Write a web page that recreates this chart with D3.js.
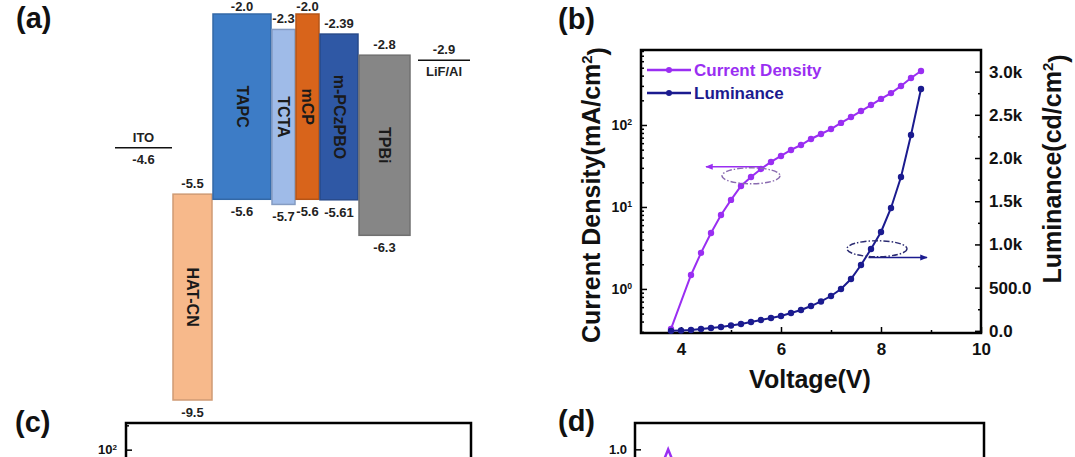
<!DOCTYPE html>
<html lang="en">
<head>
<meta charset="UTF-8" />
<title>Device energy levels and J-V-L characteristics</title>
<script src="https://d3js.org/d3.v7.min.js"></script>
<style>
  html, body { margin: 0; padding: 0; background: #fff; }
  svg { display: block; font-family: "Liberation Sans", Arial, sans-serif; font-weight: bold; }
  .axis path { display: none; }
  .axis line { stroke: #000; stroke-width: 1.5; }
  .axis text { font-family: "Liberation Sans", Arial, sans-serif; font-weight: bold; fill: #111; }
  .frame { fill: none; stroke: #000; stroke-width: 2.5; }
  .panel-tag { font-size: 29px; fill: #111; }
  .level-label { font-size: 13px; fill: #222; }
  .layer-name { font-size: 16px; fill: #1a1a1a; }
  .axis-title { font-size: 25px; fill: #111; }
</style>
</head>
<body>
<svg id="figure" width="1075" height="457"></svg>
<script>
// (a) energy levels, eV
const layerNames = ["HAT-CN", "TAPC", "TCTA", "mCP", "m-PCzPBO", "TPBi"];
const lumoLevels = [-5.5, -2.0, -2.3, -2.0, -2.39, -2.8];
const homoLevels = [-9.5, -5.6, -5.7, -5.6, -5.61, -6.3];
const electrodeNames = ["ITO", "LiF/Al"];
const electrodeLevels = [-4.6, -2.9];

// (b) J-V-L
const voltage = [3.8, 4.0, 4.2, 4.4, 4.6, 4.8, 5.0, 5.2, 5.4, 5.6, 5.8, 6.0, 6.2,
                 6.4, 6.6, 6.8, 7.0, 7.2, 7.4, 7.6, 7.8, 8.0, 8.2, 8.4, 8.6, 8.8];
const currentDensity = [0.325, null, 1.48, 2.75, 4.82, 7.98, 12.2, 18.0, 23.2, 29.1, 35.4, 41.9, 49.6,
                        57.0, 67.5, 77.6, 89.3, 106, 125, 148, 175, 208, 245, 299, 374, 456];
const luminance = [0, 4, 10, 21, 33, 44, 62, 79, 102, 125, 149, 172, 206,
                   241, 287, 340, 403, 484, 600, 762, 947, 1144, 1422, 1781, 2267, 2799];
const voltageTicks = [4, 6, 8, 10];
const voltageMinorTicks = [5, 7, 9];
const densityTicks = [1, 10, 100];
const luminanceTicks = [0, 500, 1000, 1500, 2000, 2500, 3000];
const legendLabels = ["Current Density", "Luminance"];
// arrows pointing to each curve's axis: [voltage, value] of tail and head
const densityArrow = [[5.58, 31], [4.5, 31]];
const densityCircle = [5.4, 24];
const luminanceArrow = [[7.75, 850], [8.92, 850]];
const luminanceCircle = [7.92, 950];

// (c) and (d), only the top edge is in view
const panelCTicks = [100];
const panelDTicks = [1.0];
const elWavelength = [426, 430, 434, 438, 442, 446, 450];
const elIntensity = [0.74, 0.87, 0.97, 1.0, 0.97, 0.88, 0.75];

const svg = d3.select("#figure");
const purple = "#9a2ef2";
const navy = "#1b1b8f";

function levelText(v) {
  return Math.round(v * 100) % 10 === 0 ? v.toFixed(1) : v.toFixed(2);
}

function powerLabels(g) {
  g.selectAll(".tick text").each(function (d) {
    const t = d3.select(this).text(null);
    t.append("tspan").text("10");
    t.append("tspan").attr("dy", "-0.55em").attr("font-size", "0.62em")
      .text(Math.round(Math.log10(d)));
  });
}

function logMinors(scale) {
  const [lo, hi] = scale.domain();
  const out = [];
  for (let e = -2; e <= 3; e++) {
    for (let m = 2; m <= 9; m++) {
      const v = m * Math.pow(10, e);
      if (v > lo && v < hi) out.push(v);
    }
  }
  return out;
}

function panelTag(label, x, y) {
  svg.append("text").attr("class", "panel-tag").attr("x", x).attr("y", y).text(label);
}

function drawEnergyLevels() {
  const y = d3.scaleLinear().domain([-2.0, -9.5]).range([14, 400]);
  const widths = [39, 58, 23, 23, 38, 51];
  const colors = ["#f7b98b", "#3d7cc6", "#9fbbe8", "#d8641b", "#2f58a5", "#868686"];
  let x0 = 173;
  const layers = layerNames.map((name, i) => {
    const d = { name, lumo: lumoLevels[i], homo: homoLevels[i], x: x0, w: widths[i], color: colors[i] };
    x0 += widths[i] + 1;
    return d;
  });

  const g = svg.append("g");
  g.selectAll("rect.layer")
    .data(layers)
    .join("rect")
    .attr("class", "layer")
    .attr("x", d => d.x)
    .attr("y", d => y(d.lumo))
    .attr("width", d => d.w)
    .attr("height", d => y(d.homo) - y(d.lumo))
    .attr("fill", d => d.color)
    .attr("stroke", d => d3.color(d.color).darker(0.5))
    .attr("stroke-width", 1.5);

  g.selectAll("text.layer-name")
    .data(layers)
    .join("text")
    .attr("class", "layer-name")
    .attr("text-anchor", "middle")
    .attr("dominant-baseline", "central")
    .attr("transform", d => `translate(${d.x + d.w / 2},${(y(d.lumo) + y(d.homo)) / 2}) rotate(90)`)
    .text(d => d.name);

  // keep the topmost labels inside the picture
  g.selectAll("text.lumo")
    .data(layers)
    .join("text")
    .attr("class", "level-label lumo")
    .attr("text-anchor", "middle")
    .attr("x", d => d.x + d.w / 2)
    .attr("y", d => Math.max(y(d.lumo) - 6, 11))
    .text(d => levelText(d.lumo));

  g.selectAll("text.homo")
    .data(layers)
    .join("text")
    .attr("class", "level-label homo")
    .attr("text-anchor", "middle")
    .attr("x", d => d.x + d.w / 2)
    .attr("y", d => y(d.homo) + 17)
    .text(d => levelText(d.homo));

  const spans = [[115, 172], [418, 470]];
  const electrodes = electrodeNames.map((name, i) => ({ name, level: electrodeLevels[i], span: spans[i] }));
  g.selectAll("line.electrode")
    .data(electrodes)
    .join("line")
    .attr("x1", d => d.span[0])
    .attr("x2", d => d.span[1])
    .attr("y1", d => y(d.level))
    .attr("y2", d => y(d.level))
    .attr("stroke", "#111")
    .attr("stroke-width", 1.6);

  // ITO: name above, value below; cathode the other way round
  g.selectAll("text.el-top")
    .data(electrodes)
    .join("text")
    .attr("class", "level-label")
    .attr("text-anchor", "middle")
    .attr("x", d => (d.span[0] + d.span[1]) / 2)
    .attr("y", d => y(d.level) - 6)
    .text((d, i) => i === 0 ? d.name : levelText(d.level));

  g.selectAll("text.el-bottom")
    .data(electrodes)
    .join("text")
    .attr("class", "level-label")
    .attr("text-anchor", "middle")
    .attr("x", d => (d.span[0] + d.span[1]) / 2)
    .attr("y", d => y(d.level) + 16)
    .text((d, i) => i === 0 ? levelText(d.level) : d.name);

  panelTag("(a)", 16, 28);
}

function drawJVL() {
  const box = { left: 641, right: 981, top: 50, bottom: 333 };
  const x = d3.scaleLinear().domain([3.2, 10]).range([box.left, box.right]);
  const yJ = d3.scaleLog().domain([0.29, 822]).range([box.bottom, box.top]);
  const yL = d3.scaleLinear().domain([-25, 3250]).range([box.bottom, box.top]);

  const defs = svg.append("defs");
  [["headP", purple], ["headN", navy]].forEach(([id, c]) => {
    defs.append("marker")
      .attr("id", id)
      .attr("viewBox", "0 0 10 10")
      .attr("refX", 9).attr("refY", 5)
      .attr("markerWidth", 5).attr("markerHeight", 5)
      .attr("orient", "auto")
      .append("path").attr("d", "M0,1 L10,5 L0,9 z").attr("fill", c);
  });

  // axes
  svg.append("g").attr("class", "axis")
    .attr("transform", `translate(0,${box.bottom})`)
    .call(d3.axisBottom(x).tickValues(voltageTicks).tickSizeInner(-6).tickSizeOuter(0).tickPadding(10)
      .tickFormat(d3.format("d")))
    .selectAll("text").attr("font-size", 17);
  svg.append("g").attr("class", "axis")
    .attr("transform", `translate(0,${box.bottom})`)
    .call(d3.axisBottom(x).tickValues(voltageMinorTicks).tickSizeInner(-3).tickSizeOuter(0).tickFormat(""));

  const left = svg.append("g").attr("class", "axis")
    .attr("transform", `translate(${box.left},0)`)
    .call(d3.axisLeft(yJ).tickValues(densityTicks).tickSizeInner(-6).tickSizeOuter(0).tickPadding(9));
  left.selectAll("text").attr("font-size", 14);
  powerLabels(left);
  svg.append("g").attr("class", "axis")
    .attr("transform", `translate(${box.left},0)`)
    .call(d3.axisLeft(yJ).tickValues(logMinors(yJ)).tickSizeInner(-3).tickSizeOuter(0).tickFormat(""));

  svg.append("g").attr("class", "axis")
    .attr("transform", `translate(${box.right},0)`)
    .call(d3.axisRight(yL).tickValues(luminanceTicks).tickSizeInner(-6).tickSizeOuter(0).tickPadding(8)
      .tickFormat(v => v < 1000 ? v.toFixed(1) : (v / 1000).toFixed(1) + "k"))
    .selectAll("text").attr("font-size", 17);
  svg.append("g").attr("class", "axis")
    .attr("transform", `translate(${box.right},0)`)
    .call(d3.axisRight(yL).tickValues(d3.range(250, 3250, 500)).tickSizeInner(-3).tickSizeOuter(0).tickFormat(""));

  svg.append("rect").attr("class", "frame")
    .attr("x", box.left).attr("y", box.top)
    .attr("width", box.right - box.left).attr("height", box.bottom - box.top);

  // curves
  const jPoints = voltage.map((v, i) => [v, currentDensity[i]]).filter(d => d[1] != null);
  const lPoints = voltage.map((v, i) => [v, luminance[i]]);
  const series = [
    { pts: jPoints, y: yJ, color: purple },
    { pts: lPoints, y: yL, color: navy }
  ];
  series.forEach(s => {
    svg.append("path")
      .datum(s.pts)
      .attr("fill", "none")
      .attr("stroke", s.color)
      .attr("stroke-width", 2)
      .attr("d", d3.line().x(d => x(d[0])).y(d => s.y(d[1])));
    svg.append("g").selectAll("circle")
      .data(s.pts)
      .join("circle")
      .attr("cx", d => x(d[0]))
      .attr("cy", d => s.y(d[1]))
      .attr("r", 3.2)
      .attr("fill", s.color);
  });

  // arrows with dash-dot ellipses
  svg.append("line")
    .attr("x1", x(densityArrow[0][0])).attr("y1", yJ(densityArrow[0][1]))
    .attr("x2", x(densityArrow[1][0])).attr("y2", yJ(densityArrow[1][1]))
    .attr("stroke", purple).attr("stroke-width", 1.5).attr("marker-end", "url(#headP)");
  svg.append("ellipse")
    .attr("cx", x(densityCircle[0])).attr("cy", yJ(densityCircle[1]))
    .attr("rx", 29).attr("ry", 8)
    .attr("fill", "none").attr("stroke", "#8a6bb0").attr("stroke-width", 1.4)
    .attr("stroke-dasharray", "6,2,1.5,2");
  svg.append("line")
    .attr("x1", x(luminanceArrow[0][0])).attr("y1", yL(luminanceArrow[0][1]))
    .attr("x2", x(luminanceArrow[1][0])).attr("y2", yL(luminanceArrow[1][1]))
    .attr("stroke", navy).attr("stroke-width", 1.5).attr("marker-end", "url(#headN)");
  svg.append("ellipse")
    .attr("cx", x(luminanceCircle[0])).attr("cy", yL(luminanceCircle[1]))
    .attr("rx", 30).attr("ry", 8)
    .attr("fill", "none").attr("stroke", "#2b2b72").attr("stroke-width", 1.4)
    .attr("stroke-dasharray", "6,2,1.5,2");

  // legend
  const legend = svg.selectAll(".legend-item")
    .data(legendLabels.map((label, i) => ({ label, color: series[i].color })))
    .join("g")
    .attr("class", "legend-item")
    .attr("transform", (d, i) => `translate(647,${70 + i * 23})`);
  legend.append("line").attr("x1", 0).attr("x2", 44)
    .attr("stroke", d => d.color).attr("stroke-width", 2.5);
  legend.append("circle").attr("cx", 22).attr("r", 3).attr("fill", d => d.color);
  legend.append("text").attr("x", 47).attr("y", 6)
    .attr("font-size", 17).attr("fill", d => d.color).text(d => d.label);

  // titles
  svg.append("text").attr("class", "axis-title").attr("text-anchor", "middle")
    .attr("x", (box.left + box.right) / 2 - 1).attr("y", 388).text("Voltage(V)");
  const lt = svg.append("text").attr("class", "axis-title").attr("text-anchor", "middle")
    .attr("transform", "translate(600,195) rotate(-90)");
  lt.append("tspan").text("Current Density(mA/cm");
  lt.append("tspan").attr("dy", "-0.55em").attr("font-size", "0.6em").text("2");
  lt.append("tspan").attr("dy", "0.55em").text(")");
  const rt = svg.append("text").attr("class", "axis-title").attr("text-anchor", "middle")
    .attr("font-size", 28)
    .attr("transform", "translate(1061,169) rotate(-90)");
  rt.append("tspan").text("Luminance(cd/cm");
  rt.append("tspan").attr("dy", "-0.55em").attr("font-size", "0.6em").text("2");
  rt.append("tspan").attr("dy", "0.55em").text(")");

  panelTag("(b)", 558, 29);
}

function drawLowerPanels() {
  // (c): log axis, top of frame only
  const cBox = { left: 126, right: 471, top: 423, bottom: 692 };
  const yC = d3.scaleLog().domain([0.1, Math.pow(10, 2.33)]).range([cBox.bottom, cBox.top]);
  const cl = svg.append("g").attr("class", "axis")
    .attr("transform", `translate(${cBox.left},0)`)
    .call(d3.axisLeft(yC).tickValues(panelCTicks).tickSizeInner(-6).tickSizeOuter(0).tickPadding(9));
  cl.selectAll("text").attr("font-size", 13);
  powerLabels(cl);
  svg.append("g").attr("class", "axis")
    .attr("transform", `translate(${cBox.left},0)`)
    .call(d3.axisLeft(yC).tickValues(logMinors(yC).filter(v => v > 100)).tickSizeInner(-3).tickSizeOuter(0).tickFormat(""));
  svg.append("rect").attr("class", "frame").attr("stroke-width", 3)
    .attr("x", cBox.left).attr("y", cBox.top)
    .attr("width", cBox.right - cBox.left).attr("height", cBox.bottom - cBox.top);
  panelTag("(c)", 15, 432);

  // (d): normalised EL spectrum
  const dBox = { left: 635, right: 984, top: 423, bottom: 742 };
  const xD = d3.scaleLinear().domain([400, 800]).range([dBox.left, dBox.right]);
  const yD = d3.scaleLinear().domain([0, 1.09]).range([dBox.bottom, dBox.top]);
  svg.append("g").attr("class", "axis")
    .attr("transform", `translate(${dBox.left},0)`)
    .call(d3.axisLeft(yD).tickValues(panelDTicks).tickSizeInner(-6).tickSizeOuter(0).tickPadding(8)
      .tickFormat(d3.format(".1f")))
    .selectAll("text").attr("font-size", 13);
  svg.append("path")
    .datum(elWavelength.map((w, i) => [w, elIntensity[i]]))
    .attr("fill", "none").attr("stroke", purple).attr("stroke-width", 2.5)
    .attr("d", d3.line().x(d => xD(d[0])).y(d => yD(d[1])));
  svg.append("rect").attr("class", "frame").attr("stroke-width", 3)
    .attr("x", dBox.left).attr("y", dBox.top)
    .attr("width", dBox.right - dBox.left).attr("height", dBox.bottom - dBox.top);
  panelTag("(d)", 558, 431);
}

drawEnergyLevels();
drawJVL();
drawLowerPanels();
</script>
</body>
</html>
